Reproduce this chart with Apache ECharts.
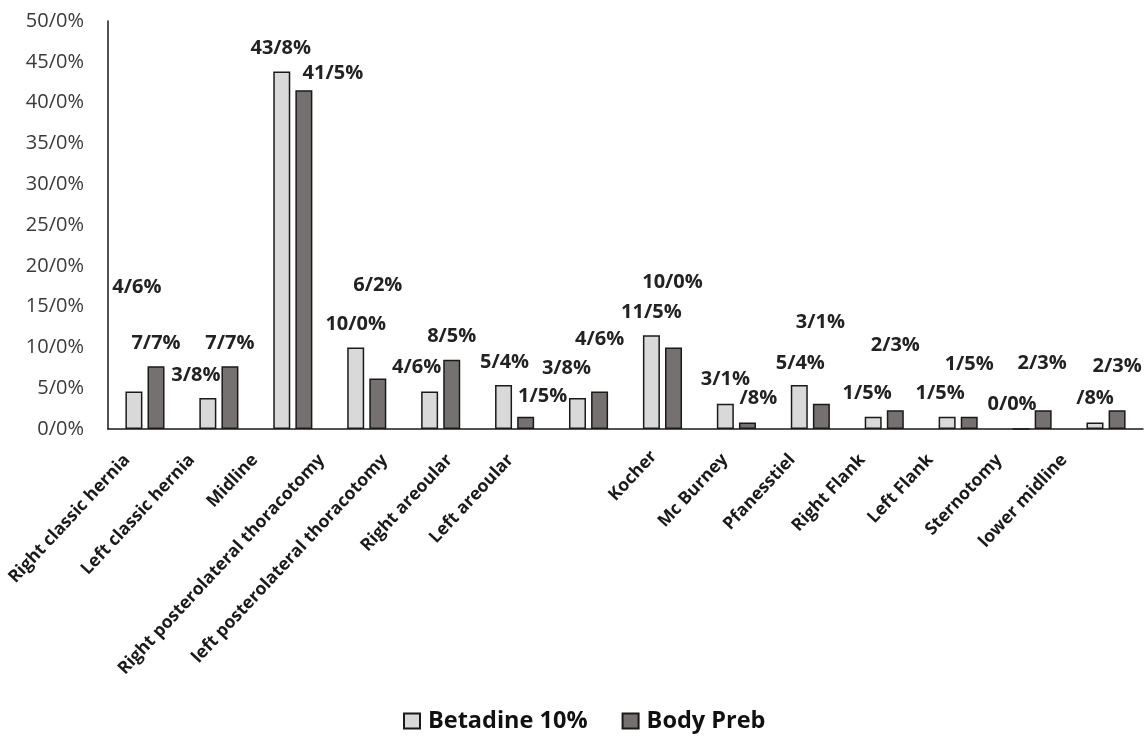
<!DOCTYPE html>
<html>
<head>
<meta charset="utf-8">
<script src="https://cdn.jsdelivr.net/npm/echarts@6/dist/echarts.min.js"></script>
<style>
  html, body { margin: 0; padding: 0; background: #fff; }
  #chart { width: 1147px; height: 738px; }
</style>
</head>
<body>
<div id="chart"></div>
<script>
// Incision sites and share of infections (%) for each skin preparation
const categories = [
  'Right classic hernia', 'Left classic hernia', 'Midline',
  'Right posterolateral thoracotomy', 'left posterolateral thoracotomy',
  'Right areoular', 'Left areoular', 'Kocher', 'Mc Burney', 'Pfanesstiel',
  'Right Flank', 'Left Flank', 'Sternotomy', 'lower midline'
];
const seriesNames = ['Betadine 10%', 'Body Preb'];
const betadine = [4.6, 3.8, 43.8, 10.0, 4.6, 5.4, 3.8, 11.5, 3.1, 5.4, 1.5, 1.5, 0.0, 0.8];
const bodyPreb = [7.7, 7.7, 41.5, 6.2, 8.5, 1.5, 4.6, 10.0, 0.8, 3.1, 2.3, 1.5, 2.3, 2.3];
const yTicks = [0, 5, 10, 15, 20, 25, 30, 35, 40, 45, 50];

// Hand-placed value-label nudges [dx, dy] in px
const betadineLabelShift = [[3, -81], [-12, 0], [-1, 0], [0, 0], [-13, -1], [1, 0], [-11, -7],
  [0, 0], [0, -1], [1, 1], [-6, 0], [-7, 0], [-9, -1], [0, -1]];
const bodyPrebLabelShift = [[0, 0], [0, 0], [29, 6], [0, -70], [0, 0], [17, 3], [0, -29],
  [-1, -42], [11, -1], [-1, -58], [0, -42], [0, -29], [-1, -24], [0, -21]];
// Leftward nudge (px) of each rotated category name
const categoryLabelShift = [18, 27, 38, 45, 56, 65, 78, 5, 11, 18, 22, 28, 33, 42];
const categoryRotate = 47;
const categoryFontSize = 17.5;

// Values use "/" as the decimal separator; a leading zero is dropped below 1
function pct(v) {
  const s = v.toFixed(1).split('.');
  const whole = (v > 0 && v < 1) ? '' : s[0];
  return whole + '/' + s[1] + '%';
}

// Move a rotated, right-aligned name straight left by d px: right padding slides
// it down its baseline, and a taller line box (the name plus one blank line,
// centred on the anchor) lifts it back up by half the line height.
function shiftedCategory(name, i) {
  const d = categoryLabelShift[i];
  const a = categoryRotate * Math.PI / 180;
  const c = Math.cos(a), s = Math.sin(a);
  const p = d / (c + s * s / c);
  const u = p * s / c;
  return {
    value: name,
    textStyle: { padding: [0, p, 0, 0], lineHeight: Math.max(categoryFontSize, 2 * u) }
  };
}

const labelFont = {
  fontFamily: 'Open Sans', fontWeight: 'bold', fontSize: 20, color: '#222', lineHeight: 20
};

function seriesData(values, shifts) {
  return values.map((v, i) => ({
    value: v,
    label: { offset: shifts[i] }
  }));
}

const chart = echarts.init(document.getElementById('chart'), null, { renderer: 'canvas' });
chart.setOption({
  animation: false,
  backgroundColor: '#ffffff',
  grid: {
    left: 108, right: 4, top: 21, bottom: 309,
    containLabel: false,
    outerBoundsMode: 'none'
  },
  legend: {
    top: 709,
    left: 403,
    padding: 0,
    itemWidth: 16,
    itemHeight: 15,
    itemGap: 34,
    icon: 'rect',
    textStyle: {
      fontFamily: 'Open Sans', fontWeight: 'bold', fontSize: 23.5, color: '#111',
      padding: [0, 0, 0, 3]
    },
    data: seriesNames
  },
  xAxis: {
    type: 'category',
    data: categories.map(shiftedCategory),
    axisLine: { lineStyle: { color: '#1a1a1a', width: 1.5 } },
    axisTick: { show: false },
    axisLabel: {
      interval: 0,
      rotate: categoryRotate,
      margin: 28,
      fontFamily: 'Open Sans',
      fontWeight: 'bold',
      fontSize: categoryFontSize,
      color: '#1a1a1a',
      formatter: name => name + '\n '
    }
  },
  yAxis: {
    type: 'value',
    min: yTicks[0],
    max: yTicks[yTicks.length - 1],
    interval: yTicks[1] - yTicks[0],
    axisLine: { show: true, lineStyle: { color: '#1a1a1a', width: 1.5 } },
    axisTick: { show: false },
    splitLine: { show: false },
    axisLabel: {
      margin: 24,
      fontFamily: 'Open Sans',
      fontSize: 20,
      color: '#3a3a3a',
      formatter: v => v + '/0%'
    }
  },
  series: [
    {
      name: seriesNames[0],
      type: 'bar',
      data: seriesData(betadine, betadineLabelShift),
      barWidth: 17,
      barGap: '30%',
      itemStyle: { color: '#d9d9d9', borderColor: '#1a1a1a', borderWidth: 1.5 },
      label: Object.assign({ show: true, position: 'top', distance: 13, formatter: p => pct(p.value) }, labelFont)
    },
    {
      name: seriesNames[1],
      type: 'bar',
      data: seriesData(bodyPreb, bodyPrebLabelShift),
      barWidth: 17,
      itemStyle: { color: '#767171', borderColor: '#1a1a1a', borderWidth: 1.5 },
      label: Object.assign({ show: true, position: 'top', distance: 13, formatter: p => pct(p.value) }, labelFont)
    }
  ]
});
</script>
</body>
</html>
